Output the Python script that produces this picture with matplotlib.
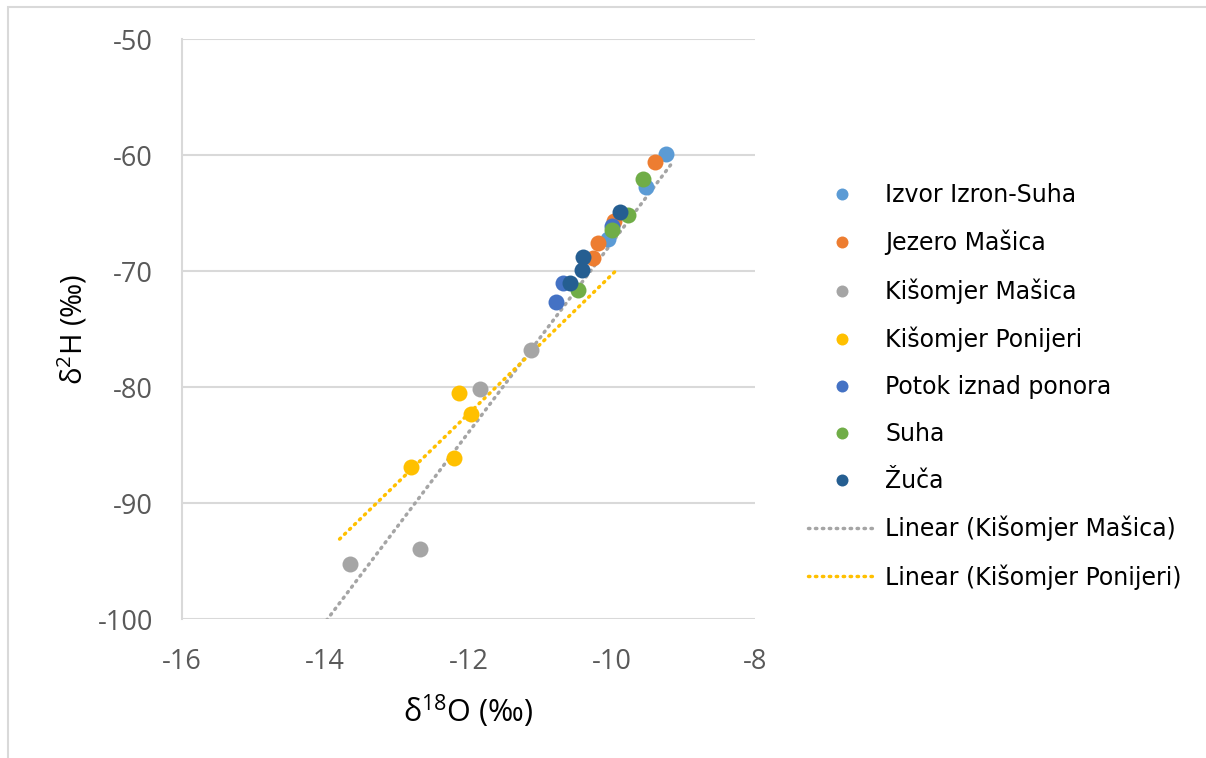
import matplotlib.pyplot as plt
import numpy as np
from matplotlib.patches import Rectangle

plt.rcParams['axes.unicode_minus'] = False
plt.rcParams['mathtext.fontset'] = 'custom'
plt.rcParams['mathtext.rm'] = 'Open Sans'

# series: (x = d18O, y = d2H)
izvor_x = [-9.24, -9.52, -10.05]
izvor_y = [-59.9, -62.8, -67.2]
jezero_x = [-9.39, -9.97, -10.19, -10.26]
jezero_y = [-60.6, -65.7, -67.6, -68.9]
kis_masica_x = [-11.13, -11.84, -12.68, -13.65]
kis_masica_y = [-76.8, -80.2, -94.0, -95.3]
kis_ponijeri_x = [-12.13, -11.96, -12.20, -12.80]
kis_ponijeri_y = [-80.5, -82.3, -86.1, -86.9]
potok_x = [-10.00, -10.68, -10.78]
potok_y = [-66.1, -71.0, -72.7]
suha_x = [-9.56, -9.78, -10.00, -10.47]
suha_y = [-62.1, -65.2, -66.5, -71.6]
zuca_x = [-9.88, -10.40, -10.41, -10.58]
zuca_y = [-64.9, -68.8, -69.9, -71.0]

names = ['Izvor Izron-Suha', 'Jezero Mašica', 'Kišomjer Mašica', 'Kišomjer Ponijeri',
         'Potok iznad ponora', 'Suha', 'Žuča']
colors = ['#5B9BD5', '#ED7D31', '#A5A5A5', '#FFC000', '#4472C4', '#70AD47', '#255E91']
xs = [izvor_x, jezero_x, kis_masica_x, kis_ponijeri_x, potok_x, suha_x, zuca_x]
ys = [izvor_y, jezero_y, kis_masica_y, kis_ponijeri_y, potok_y, suha_y, zuca_y]

fig = plt.figure(figsize=(12.06, 7.58), dpi=100)
ax = fig.add_axes([182/1206, 1-619/758, 573/1206, 580/758])

handles = []
for x, y, c, n in zip(xs, ys, colors, names):
    h, = ax.plot(x, y, 'o', color=c, markersize=11.5, markeredgewidth=0, label=n, zorder=3)
    handles.append(h)

# linear trendlines (Excel-style, with forecast)
def trend(x, y, x0, x1, c, lab):
    k, b = np.polyfit(x, y, 1)
    tx = np.array([x0, x1])
    ln, = ax.plot(tx, k*tx + b, color=c, lw=2.5, linestyle=(0, (0.4, 1.6)),
                  dash_capstyle='round', label=lab, zorder=2)
    return ln

handles.append(trend(kis_masica_x, kis_masica_y, -14.1, -9.15, '#A5A5A5', 'Linear (Kišomjer Mašica)'))
handles.append(trend(kis_ponijeri_x, kis_ponijeri_y, -13.8, -9.95, '#FFC000', 'Linear (Kišomjer Ponijeri)'))

ax.set_xlim(-16, -8)
ax.set_ylim(-100, -50)
ax.set_xticks([-16, -14, -12, -10, -8])
ax.set_yticks([-100, -90, -80, -70, -60, -50])
ax.grid(axis='y', color='#D9D9D9', lw=1.5)
ax.set_axisbelow(True)
for s in ['top', 'right', 'bottom']:
    ax.spines[s].set_visible(False)
ax.spines['left'].set_color('#D9D9D9')
ax.spines['left'].set_linewidth(1.5)
ax.tick_params(length=0, labelsize=19.5, labelcolor='#595959')
ax.tick_params(axis='x', pad=21)
ax.tick_params(axis='y', pad=21)
for t in ax.get_xticklabels() + ax.get_yticklabels():
    t.set_family('Open Sans')

ax.set_xlabel('δ$^{18}$O (‰)', fontsize=22, family='Open Sans', labelpad=12)
ax.set_ylabel('δ$^{2}$H (‰)', fontsize=21, family='Open Sans', labelpad=6)

fig.legend(handles=handles, loc='upper left', bbox_to_anchor=(808/1206, 1-183/758),
           frameon=False, fontsize=17, handlelength=2.9, handletextpad=0.38,
           labelspacing=0.97, markerscale=0.75, borderpad=0, borderaxespad=0)

fig.patches.append(Rectangle((8/1206, -0.01), 1.0, 1 - 7/758 + 0.01, transform=fig.transFigure,
                             fill=False, edgecolor='#D9D9D9', lw=1.5))

fig.savefig('out.png', dpi=100)
